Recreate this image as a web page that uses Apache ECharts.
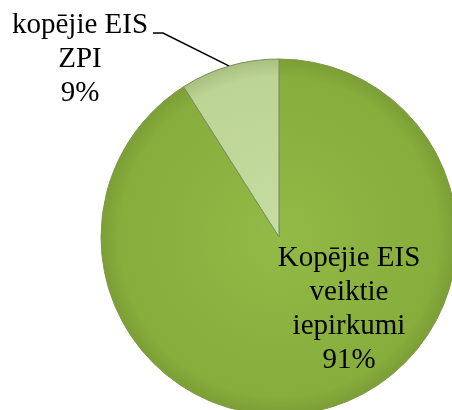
<!DOCTYPE html>
<html>
<head>
<meta charset="utf-8">
<script src="https://cdn.jsdelivr.net/npm/echarts@6/dist/echarts.min.js"></script>
<style>
  html, body { margin: 0; padding: 0; background: #fff; }
  #chart { width: 452px; height: 410px; }
</style>
</head>
<body>
<div id="chart"></div>
<script>
// dati no attēla
const names = ['Kopējie EIS\nveiktie\niepirkumi', 'kopējie EIS\nZPI']
const values = [91, 9]
const sliceColors = [
  ['#92ba46', '#87ad3c', '#7c9e36'],
  ['#c6dca2', '#bcd494', '#a9c07f']
]
const labelPos = [[349, 309], [80, 59]]   // teksta centri

const pieCenter = [279, 237]
const pieRadius = 178

const chart = echarts.init(document.getElementById('chart'))

let data = []
for (let i = 0; i < values.length; i++) {
  data.push({
    name: names[i],
    value: values[i],
    itemStyle: {
      color: {
        type: 'radial', x: pieCenter[0], y: pieCenter[1], r: pieRadius, global: true,
        colorStops: [
          {offset: 0, color: sliceColors[i][0]},
          {offset: 0.9, color: sliceColors[i][1]},
          {offset: 1, color: sliceColors[i][2]}
        ]
      },
      borderColor: i === 0 ? '#7d9a45' : '#7a8a60',
      borderWidth: 1
    },
    labelLine: {show: i === 1}
  })
}

const option = {
  animation: false,
  series: [
    {
      type: 'pie',
      center: pieCenter,
      radius: pieRadius,
      startAngle: 90,
      clockwise: true,
      data: data,
      emphasis: {disabled: true},
      label: {
        show: true,
        position: 'outside',
        formatter: (p) => p.name + '\n' + p.value + '%',
        fontFamily: '"Liberation Serif", "Times New Roman", serif',
        fontSize: 29,
        lineHeight: 34,
        color: '#000',
        align: 'center',
        overflow: 'none'
      },
      labelLine: {
        show: true,
        lineStyle: {color: '#000', width: 1.5}
      },
      labelLayout: function (params) {
        let pos = labelPos[params.dataIndex]
        let res = {
          x: pos[0],
          y: pos[1],
          align: 'center',
          verticalAlign: 'middle'
        }
        if (params.dataIndex === 1 && params.labelLinePoints) {
          let anchor = params.labelLinePoints[0]
          res.labelLinePoints = [
            anchor,
            [pos[0] + 83, pos[1] - 26],
            [pos[0] + 73, pos[1] - 26]
          ]
        }
        return res
      }
    }
  ]
}

chart.setOption(option)
</script>
</body>
</html>
